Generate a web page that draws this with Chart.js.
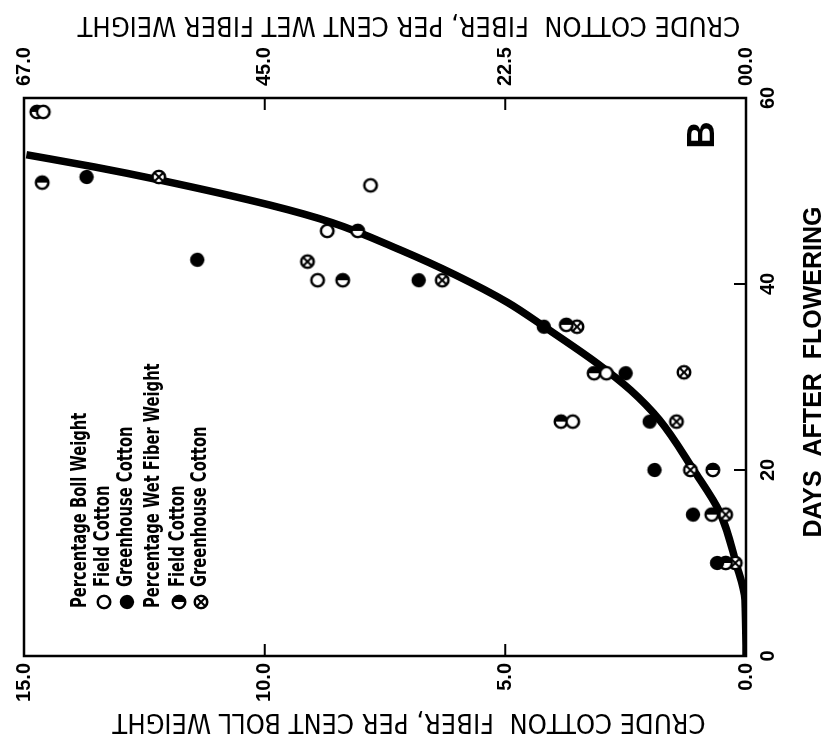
<!DOCTYPE html>
<html>
<head>
<meta charset="utf-8">
<title>Crude cotton fiber and days after flowering</title>
<script src="https://cdn.jsdelivr.net/npm/chart.js@4.4.1/dist/chart.umd.min.js"></script>
<style>
  html, body { margin: 0; padding: 0; background: #fff; }
  #frame { position: relative; width: 825px; height: 739px; overflow: hidden; background: #fff; }
  /* the figure is printed on its side, so the chart is drawn upright and turned */
  #turn { position: absolute; left: 0; top: 0; width: 739px; height: 825px;
          transform-origin: 0 0; transform: translateY(739px) rotate(-90deg); }
</style>
</head>
<body>
<div id="frame"><div id="turn"><canvas id="CottonChart" width="739" height="825"></canvas></div></div>
<script>
//axis ticks
const dayTicks = [0, 20, 40, 60];
const bollTicks = [0, 5, 10, 15];
const wetTickValues = [0, 22.5, 45, 67.5];
const wetTickLabels = ['00.0', '22.5', '45.0', '67.0'];

//Percentage boll weight, field cotton
const fieldBollDays = [58.5, 50.6, 45.7, 40.4, 30.4, 25.2];
const fieldBollPct = [14.6, 7.8, 8.7, 8.9, 2.9, 3.6];

//Percentage boll weight, greenhouse cotton
const houseBollDays = [51.5, 42.6, 40.4, 35.4, 30.4, 25.2, 20.0, 15.2, 10.0];
const houseBollPct = [13.7, 11.4, 6.8, 4.2, 2.5, 2.0, 1.9, 1.1, 0.6];

//Percentage wet fiber weight, field cotton
const fieldWetDays = [58.5, 50.9, 45.7, 40.4, 35.6, 30.4, 25.2, 20.0, 15.2, 10.0];
const fieldWetPct = [66.3, 65.8, 36.3, 37.7, 16.8, 14.2, 17.3, 3.1, 3.2, 1.9];

//Percentage wet fiber weight, greenhouse cotton
const houseWetDays = [51.5, 42.4, 40.4, 35.4, 30.5, 25.2, 20.0, 15.2, 10.0];
const houseWetPct = [54.9, 41.0, 28.4, 15.8, 5.8, 6.5, 5.2, 1.9, 1.0];

//fitted curve (per cent boll weight)
const curveDays = [0, 6, 10, 15.4, 20, 25.4, 28.6, 31.5, 35.4, 38, 41, 43.7, 46.6, 48.5, 51.2, 52.6, 53.9];
const curvePct = [0, 0.02, 0.21, 0.54, 1.09, 1.8, 2.4, 3.1, 4.19, 4.95, 6.05, 7.2, 8.6, 9.9, 12.2, 13.55, 14.95];

function toPoints(xs, ys) {
  return xs.map(function(x, i) { return {x: x, y: ys[i]}; });
}

//little symbols used for the points and the key
function marker(kind) {
  const c = document.createElement('canvas');
  c.width = 18; c.height = 18;
  const g = c.getContext('2d');
  g.lineWidth = 2.4;
  g.strokeStyle = '#000';
  g.beginPath();
  g.arc(9, 9, 6.2, 0, Math.PI * 2);
  if (kind === 'filled') {
    g.fillStyle = '#000';
    g.arc(9, 9, 7.2, 0, Math.PI * 2);
    g.fill();
    return c;
  }
  g.fillStyle = '#fff';
  g.fill();
  g.stroke();
  if (kind === 'half') {
    g.beginPath();
    g.arc(9, 9, 6.2, -Math.PI / 2, Math.PI / 2);
    g.closePath();
    g.fillStyle = '#000';
    g.fill();
  }
  if (kind === 'cross') {
    g.lineWidth = 2;
    g.beginPath();
    g.moveTo(5, 5); g.lineTo(13, 13);
    g.moveTo(13, 5); g.lineTo(5, 13);
    g.stroke();
  }
  return c;
}
const openMark = marker('open');
const fullMark = marker('filled');
const halfMark = marker('half');
const crossMark = marker('cross');

//narrow lettering for the key
function narrowText(ctx, text, x, y) {
  ctx.save();
  ctx.translate(x, y);
  ctx.scale(0.78, 1);
  ctx.fillText(text, 0, 0);
  ctx.restore();
}

//frame, inward ticks, key, letter and axis titles
const figureParts = {
  id: 'figureParts',
  beforeDatasetsDraw(chart) {
    const ctx = chart.ctx;
    const a = chart.chartArea;
    const s = chart.scales;
    ctx.save();
    ctx.strokeStyle = '#000';
    ctx.lineWidth = 2.5;
    ctx.strokeRect(a.left, a.top, a.right - a.left, a.bottom - a.top);
    ctx.lineWidth = 2;
    ctx.beginPath();
    s.x.ticks.forEach(function(t) {
      const p = s.x.getPixelForValue(t.value);
      ctx.moveTo(p, a.bottom); ctx.lineTo(p, a.bottom - 12);
    });
    s.y.ticks.forEach(function(t) {
      const p = s.y.getPixelForValue(t.value);
      ctx.moveTo(a.left, p); ctx.lineTo(a.left + 12, p);
    });
    s.y2.ticks.forEach(function(t) {
      const p = s.y2.getPixelForValue(t.value);
      ctx.moveTo(a.right, p); ctx.lineTo(a.right - 12, p);
    });
    ctx.stroke();
    ctx.restore();
  },
  afterDraw(chart) {
    const ctx = chart.ctx;
    const a = chart.chartArea;
    ctx.save();
    ctx.fillStyle = '#000';
    ctx.textBaseline = 'middle';

    //key
    const rows = [
      {head: 'Percentage Boll Weight', dy: 57},
      {mark: openMark, text: 'Field Cotton', dy: 80},
      {mark: fullMark, text: 'Greenhouse Cotton', dy: 103},
      {head: 'Percentage Wet Fiber Weight', dy: 130},
      {mark: halfMark, text: 'Field Cotton', dy: 155},
      {mark: crossMark, text: 'Greenhouse Cotton', dy: 177}
    ];
    ctx.font = 'bold 21px "DejaVu Sans Condensed", "DejaVu Sans", sans-serif';
    ctx.textAlign = 'left';
    rows.forEach(function(r) {
      const y = a.top + r.dy;
      if (r.head) {
        narrowText(ctx, r.head, a.left + 48, y);
      } else {
        ctx.drawImage(r.mark, a.left + 45, y - 9);
        narrowText(ctx, r.text, a.left + 69, y);
      }
    });

    //panel letter
    ctx.textAlign = 'center';
    ctx.font = 'bold 38px "Liberation Sans", sans-serif';
    ctx.fillText('B', a.right - 37, a.bottom - 42);

    //axis titles
    ctx.font = 'bold 25px "Liberation Sans", sans-serif';
    ctx.fillText('DAYS  AFTER  FLOWERING', (a.left + a.right) / 2 + 5, a.bottom + 68);

    ctx.font = '27px "DejaVu Sans Condensed", "DejaVu Sans", sans-serif';
    const midY = (a.top + a.bottom) / 2 + 24;
    ctx.translate(a.left - 65, midY);
    ctx.rotate(-Math.PI / 2);
    ctx.fillText('CRUDE COTTON  FIBER, PER CENT BOLL WEIGHT', 0, 0);
    ctx.setTransform(1, 0, 0, 1, 0, 0);
    ctx.translate(a.right + 74, midY);
    ctx.rotate(-Math.PI / 2);
    ctx.fillText('CRUDE COTTON  FIBER, PER CENT WET FIBER WEIGHT', 0, 0);
    ctx.restore();
  }
};

Chart.defaults.font.family = '"Liberation Sans", sans-serif';
Chart.defaults.color = '#000';

const ctx = document.getElementById('CottonChart');

new Chart(ctx, {
  type: 'scatter',
  data: {
    datasets: [{
      label: 'Percentage Boll Weight, Field Cotton',
      data: toPoints(fieldBollDays, fieldBollPct),
      pointStyle: openMark,
      yAxisID: 'y',
    }, {
      label: 'Percentage Boll Weight, Greenhouse Cotton',
      data: toPoints(houseBollDays, houseBollPct),
      pointStyle: fullMark,
      yAxisID: 'y',
    }, {
      label: 'Percentage Wet Fiber Weight, Field Cotton',
      data: toPoints(fieldWetDays, fieldWetPct),
      pointStyle: halfMark,
      yAxisID: 'y2',
    }, {
      label: 'Percentage Wet Fiber Weight, Greenhouse Cotton',
      data: toPoints(houseWetDays, houseWetPct),
      pointStyle: crossMark,
      yAxisID: 'y2',
    }, {
      label: 'Fitted curve',
      data: toPoints(curveDays, curvePct),
      showLine: true,
      pointRadius: 0,
      borderColor: '#000',
      borderWidth: 7.5,
      tension: 0.4,
      cubicInterpolationMode: 'monotone',
      yAxisID: 'y',
    }]
  },
  options: {
    responsive: false,
    animation: false,
    events: [],
    layout: { padding: { top: 17, left: 0, right: 0, bottom: 0 } },
    plugins: { legend: { display: false }, tooltip: { enabled: false } },
    scales: {
      x: {
        type: 'linear',
        min: 0,
        max: 60,
        afterBuildTicks: function(s) { s.ticks = dayTicks.map(function(v) { return {value: v}; }); },
        afterFit: function(s) { s.height = 79; },
        ticks: { padding: 10, maxRotation: 0, font: { size: 20, weight: 'bold' } },
        grid: { display: false, drawTicks: false },
        border: { display: false },
      },
      y: {
        position: 'left',
        min: 0,
        max: 15,
        afterBuildTicks: function(s) { s.ticks = bollTicks.map(function(v) { return {value: v}; }); },
        afterFit: function(s) { s.width = 83; },
        ticks: {
          padding: 7,
          font: { size: 20, weight: 'bold' },
          callback: function(v) { return Number(v).toFixed(1); }
        },
        grid: { display: false, drawTicks: false },
        border: { display: false },
      },
      y2: {
        position: 'right',
        min: 0,
        max: 67.5,
        afterBuildTicks: function(s) { s.ticks = wetTickValues.map(function(v) { return {value: v}; }); },
        afterFit: function(s) { s.width = 98; },
        ticks: {
          padding: 12,
          font: { size: 20, weight: 'bold' },
          callback: function(v, i) { return wetTickLabels[i]; }
        },
        grid: { display: false, drawTicks: false },
        border: { display: false },
      }
    }
  },
  plugins: [figureParts]
});
</script>
</body>
</html>
